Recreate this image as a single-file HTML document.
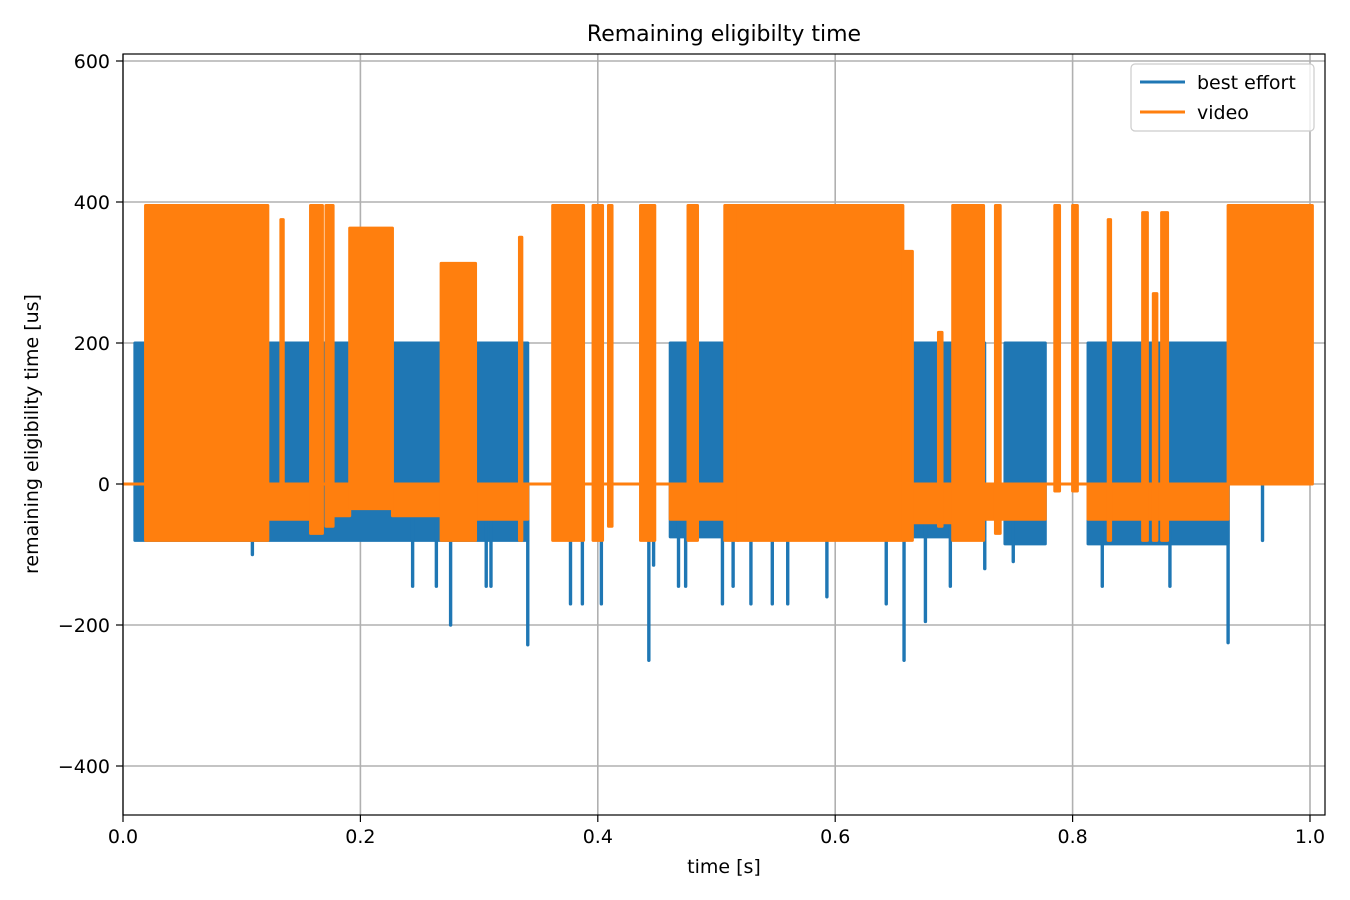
<!DOCTYPE html>
<html><head><meta charset="utf-8"><style>
html,body{margin:0;padding:0;background:#fff;}
svg{display:block;font-family:"DejaVu Sans","Liberation Sans",sans-serif;}
</style></head><body>
<svg id="chart" width="1350" height="900" viewBox="0 0 1350 900" xmlns="http://www.w3.org/2000/svg">
<rect width="1350" height="900" fill="#fff"/>
<g id="grid"></g>
<g id="blue"></g>
<g id="orange"></g>
<rect x="123" y="54" width="1202" height="761" fill="none" stroke="#000" stroke-width="1.2"/>
<g id="ticks"></g>
<text x="724" y="41" font-size="22" text-anchor="middle">Remaining eligibilty time</text>
<text x="724" y="873" font-size="19" text-anchor="middle">time [s]</text>
<text x="0" y="0" font-size="19" text-anchor="middle" transform="translate(38,434) rotate(-90)">remaining eligibility time [us]</text>
<g>
<rect x="1131" y="64" width="183" height="67" rx="4" fill="#fff" fill-opacity="0.8" stroke="#ccc" stroke-width="1.2"/>
<line x1="1140" y1="82" x2="1185" y2="82" stroke="#1f77b4" stroke-width="3"/>
<text x="1197" y="89" font-size="19">best effort</text>
<line x1="1140" y1="112" x2="1185" y2="112" stroke="#ff7f0e" stroke-width="3"/>
<text x="1197" y="119" font-size="19">video</text>
</g>
</svg>
<script>
const xTicks = [0.0, 0.2, 0.4, 0.6, 0.8, 1.0];
const xTickLabels = ["0.0", "0.2", "0.4", "0.6", "0.8", "1.0"];
const yTicks = [-400, -200, 0, 200, 400, 600];
const yTickLabels = ["\u2212400", "\u2212200", "0", "200", "400", "600"];
// blue (best effort) dense blocks: start, end, top, bottom
const blueStart = [0.010, 0.461, 0.743, 0.813];
const blueEnd   = [0.341, 0.726, 0.777, 0.931];
const blueTop   = [200, 200, 200, 200];
const blueBot   = [-80, -75, -85, -85];
// blue spikes
const blueSpikeT = [0.013,0.109,0.244,0.264,0.276,0.306,0.310,0.341,0.377,0.387,0.403,0.443,0.447,0.468,0.474,0.505,0.514,0.529,0.547,0.560,0.593,0.643,0.658,0.676,0.697,0.726,0.750,0.825,0.882,0.931,0.960];
const blueSpikeV = [-70,-100,-145,-145,-200,-145,-145,-228,-170,-170,-170,-250,-115,-145,-145,-170,-145,-170,-170,-170,-160,-170,-250,-195,-145,-120,-110,-145,-145,-225,-80];
// orange (video) dense blocks
const orStart = [0.019,0.133,0.158,0.171,0.191,0.268,0.334,0.362,0.396,0.409,0.436,0.476,0.507,0.518,0.657,0.687,0.699,0.735,0.785,0.800,0.830,0.859,0.868,0.875,0.931];
const orEnd   = [0.122,0.135,0.168,0.177,0.227,0.297,0.336,0.388,0.404,0.412,0.448,0.484,0.518,0.657,0.665,0.690,0.725,0.739,0.789,0.804,0.832,0.863,0.871,0.880,1.002];
const orTop   = [395,375,395,395,363,313,350,395,395,395,395,395,395,395,330,215,395,395,395,395,375,385,270,385,395];
const orBot   = [-80,0,-70,-60,-35,-80,-80,-80,-80,-60,-80,-80,-80,-80,-80,-60,-80,-70,-10,-10,-80,-80,-80,-80,0];
// orange negative fringe
const orNegStart = [0.122,0.177,0.227,0.297,0.461,0.665,0.725,0.813];
const orNegEnd   = [0.158,0.191,0.268,0.341,0.518,0.699,0.777,0.931];
const orNegBot   = [-50,-45,-45,-50,-50,-55,-50,-50];

const NS = "http://www.w3.org/2000/svg";
const X = t => 123 + t * 1187;
const Y = v => 484 - v * 0.705;
function mk(tag, parent, attrs) {
  const e = document.createElementNS(NS, tag);
  for (const k in attrs) e.setAttribute(k, attrs[k]);
  parent.appendChild(e);
  return e;
}
const grid = document.getElementById('grid');
const ticks = document.getElementById('ticks');
xTicks.forEach((t, i) => {
  const g = mk('line', grid, {x1: X(t), x2: X(t), y1: 54, y2: 815, stroke: '#b0b0b0', 'stroke-width': 1.6});
  
  
  const tk = mk('line', ticks, {x1: X(t), x2: X(t), y1: 815, y2: 822, stroke: '#000', 'stroke-width': 1.2});
  
  
  const lb = mk('text', ticks, {x: X(t), y: 843, 'font-size': 19, 'text-anchor': 'middle'});
  lb.textContent = xTickLabels[i];
  
  
});
yTicks.forEach((v, i) => {
  const g = mk('line', grid, {x1: 123, x2: 1325, y1: Y(v), y2: Y(v), stroke: '#b0b0b0', 'stroke-width': 1.6});
  
  
  const tk = mk('line', ticks, {x1: 116, x2: 123, y1: Y(v), y2: Y(v), stroke: '#000', 'stroke-width': 1.2});
  
  
  const lb = mk('text', ticks, {x: 110, y: Y(v) + 7, 'font-size': 19, 'text-anchor': 'end'});
  lb.textContent = yTickLabels[i];
  
  
});
const blue = document.getElementById('blue');
const orange = document.getElementById('orange');
const BL = '#1f77b4', OR = '#ff7f0e';
function block(parent, t0, t1, top, bot, col) {
  const r = mk('rect', parent, {x: X(t0) - 1.5, y: Y(top) - 1.5, width: X(t1) - X(t0) + 3, height: Y(bot) - Y(top) + 3, fill: col, rx: 1.5});
  return r;
}
const bl0 = mk('line', blue, {x1: X(0), x2: X(1.0), y1: Y(0), y2: Y(0), stroke: BL, 'stroke-width': 3});


blueStart.forEach((s, i) => {
  const r = block(blue, s, blueEnd[i], blueTop[i], blueBot[i], BL);
  
  
});
blueSpikeT.forEach((t, i) => {
  const l = mk('line', blue, {x1: X(t), x2: X(t), y1: Y(0), y2: Y(blueSpikeV[i]), stroke: BL, 'stroke-width': 3.4, 'stroke-linecap': 'round'});
  
  
});
const ol0 = mk('line', orange, {x1: X(0), x2: X(1.0), y1: Y(0), y2: Y(0), stroke: OR, 'stroke-width': 3});


orNegStart.forEach((s, i) => {
  const r = block(orange, s, orNegEnd[i], 0, orNegBot[i], OR);
  
  
});
orStart.forEach((s, i) => {
  const r = block(orange, s, orEnd[i], orTop[i], orBot[i], OR);
  
  
});
</script>
</body></html>
